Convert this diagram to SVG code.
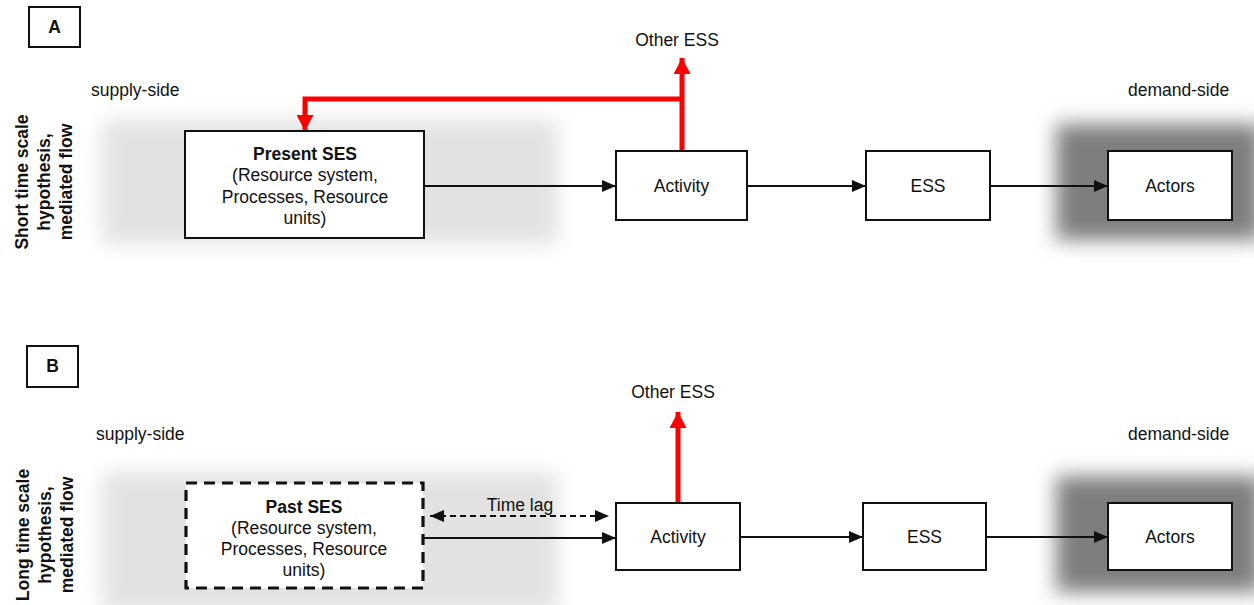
<svg xmlns="http://www.w3.org/2000/svg" width="1254" height="605" viewBox="0 0 1254 605">
  <defs>
    <style>
      text { font-family: "Liberation Sans", Arial, sans-serif; fill: #111; }
      .lbl { font-size: 17.5px; }
      .t { font-size: 17.5px; text-anchor: middle; }
      .b { font-weight: bold; }
      .side { font-size: 17.5px; font-weight: bold; text-anchor: middle; }
      .box { fill: #fff; stroke: #111; stroke-width: 2; }
      .dash { fill: #fff; stroke: #111; stroke-width: 3.2; stroke-dasharray: 11 7; }
      .flow { fill: none; stroke: #111; stroke-width: 1.8; }
      .lag { fill: none; stroke: #111; stroke-width: 1.8; stroke-dasharray: 6 4; }
      .red { fill: none; stroke: #ff0000; stroke-width: 5; }
    </style>
    <filter id="soft" x="-30%" y="-40%" width="160%" height="180%">
      <feGaussianBlur stdDeviation="10"/>
    </filter>
    <marker id="ah" viewBox="0 0 14 12" refX="14" refY="6" markerWidth="14" markerHeight="12" markerUnits="userSpaceOnUse" orient="auto">
      <path d="M0,0 L14,6 L0,12 z" fill="#111"/>
    </marker>
    <marker id="ahs" viewBox="0 0 14 12" refX="14" refY="6" markerWidth="14" markerHeight="12" markerUnits="userSpaceOnUse" orient="auto-start-reverse">
      <path d="M0,0 L14,6 L0,12 z" fill="#111"/>
    </marker>
    <marker id="rh" viewBox="0 0 16 17" refX="16" refY="8.5" markerWidth="16" markerHeight="17" markerUnits="userSpaceOnUse" orient="auto">
      <path d="M0,0 L16,8.5 L0,17 z" fill="#ff0000"/>
    </marker>
  </defs>

  <!-- shaded supply / demand zones -->
  <g id="zones">
    <rect x="102" y="120" width="456" height="124" fill="#e2e2e2" filter="url(#soft)"/>
    <rect x="1056" y="124" width="206" height="116" fill="#7e7e7e" filter="url(#soft)"/>
    <rect x="102" y="472" width="456" height="140" fill="#e2e2e2" filter="url(#soft)"/>
    <rect x="1056" y="476" width="206" height="116" fill="#7e7e7e" filter="url(#soft)"/>
  </g>

  <!-- panel A -->
  <g id="panelA-label">
    <rect x="29" y="7" width="51" height="40" class="box"/>
    <text x="54.5" y="33" class="t b">A</text>
  </g>
  <text x="28" y="182" class="side" transform="rotate(-90 28 182)">Short time scale</text>
  <text x="50" y="182" class="side" transform="rotate(-90 50 182)">hypothesis,</text>
  <text x="72" y="182" class="side" transform="rotate(-90 72 182)">mediated flow</text>
  <text x="91" y="96" class="lbl">supply-side</text>
  <text x="1128" y="96" class="lbl">demand-side</text>
  <text x="677" y="46" class="t">Other ESS</text>

  <!-- panel B -->
  <g id="panelB-label">
    <rect x="27" y="346" width="51" height="41" class="box"/>
    <text x="52.5" y="372" class="t b">B</text>
  </g>
  <text x="29" y="535" class="side" transform="rotate(-90 29 535)">Long time scale</text>
  <text x="51" y="535" class="side" transform="rotate(-90 51 535)">hypothesis,</text>
  <text x="73" y="535" class="side" transform="rotate(-90 73 535)">mediated flow</text>
  <text x="96" y="440" class="lbl">supply-side</text>
  <text x="1128" y="440" class="lbl">demand-side</text>
  <text x="673" y="398" class="t">Other ESS</text>

  <!-- connectors -->
  <g id="connectors">
    <line x1="425" y1="186" x2="616" y2="186" class="flow" marker-end="url(#ah)"/>
    <line x1="747" y1="186" x2="866" y2="186" class="flow" marker-end="url(#ah)"/>
    <line x1="990" y1="186" x2="1108" y2="186" class="flow" marker-end="url(#ah)"/>
    <line x1="682" y1="150" x2="682" y2="58" class="red" marker-end="url(#rh)"/>
    <polyline points="682,99 305,99 305,131" class="red" marker-end="url(#rh)"/>

    <line x1="424" y1="538" x2="616" y2="538" class="flow" marker-end="url(#ah)"/>
    <line x1="430" y1="516" x2="609" y2="516" class="lag" marker-start="url(#ahs)" marker-end="url(#ah)"/>
    <text x="520" y="511" class="t">Time lag</text>
    <line x1="740" y1="537" x2="863" y2="537" class="flow" marker-end="url(#ah)"/>
    <line x1="986" y1="537" x2="1108" y2="537" class="flow" marker-end="url(#ah)"/>
    <line x1="678" y1="502" x2="678" y2="412" class="red" marker-end="url(#rh)"/>
  </g>

  <!-- panel A nodes -->
  <g id="present-ses">
    <rect x="185" y="131" width="239" height="107" class="box"/>
    <text x="305" y="160" class="t b">Present SES</text>
    <text x="305" y="181" class="t">(Resource system,</text>
    <text x="305" y="203" class="t">Processes, Resource</text>
    <text x="305" y="224" class="t">units)</text>
  </g>
  <g id="activity-a">
    <rect x="616" y="151" width="131" height="69" class="box"/>
    <text x="681.5" y="192" class="t">Activity</text>
  </g>
  <g id="ess-a">
    <rect x="866" y="151" width="124" height="69" class="box"/>
    <text x="928" y="192" class="t">ESS</text>
  </g>
  <g id="actors-a">
    <rect x="1108" y="151" width="124" height="69" class="box"/>
    <text x="1170" y="192" class="t">Actors</text>
  </g>

  <!-- panel B nodes -->
  <g id="past-ses">
    <rect x="186" y="483" width="237" height="105" class="dash"/>
    <text x="304" y="513" class="t b">Past SES</text>
    <text x="304" y="534" class="t">(Resource system,</text>
    <text x="304" y="555" class="t">Processes, Resource</text>
    <text x="304" y="576" class="t">units)</text>
  </g>
  <g id="activity-b">
    <rect x="616" y="503" width="124" height="67" class="box"/>
    <text x="678" y="543" class="t">Activity</text>
  </g>
  <g id="ess-b">
    <rect x="863" y="503" width="123" height="67" class="box"/>
    <text x="924.5" y="543" class="t">ESS</text>
  </g>
  <g id="actors-b">
    <rect x="1108" y="503" width="124" height="67" class="box"/>
    <text x="1170" y="543" class="t">Actors</text>
  </g>
</svg>
